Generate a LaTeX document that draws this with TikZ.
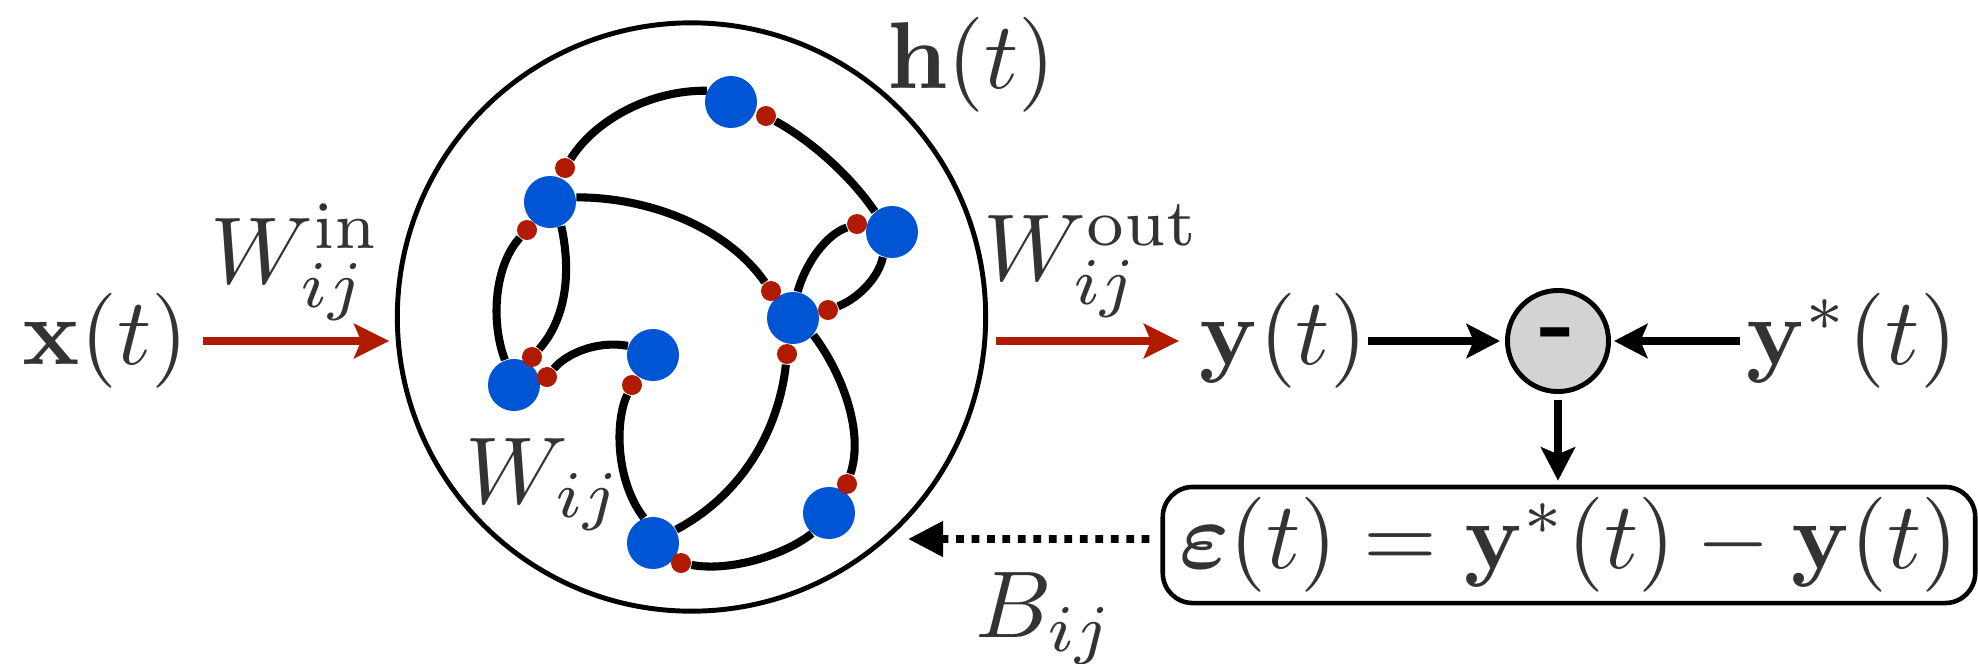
\RequirePackage{fix-cm}
\documentclass[tikz,border=0pt]{standalone}
\usepackage{amsmath}
\usepackage{graphicx}
\usetikzlibrary{arrows.meta,backgrounds}
\definecolor{nodeblue}{RGB}{0,85,212}
\definecolor{dotred}{RGB}{176,26,0}
\definecolor{txtgray}{RGB}{51,51,51}
\definecolor{minusgray}{RGB}{211,211,211}
\newcommand{\sclbl}[1]{\scalebox{2.7}{#1}}
\begin{document}
\begin{tikzpicture}[x=0.01cm,y=-0.01cm,
  lbl/.style={text=txtgray,inner sep=0pt},
  neuron/.style={circle,fill=nodeblue,inner sep=0pt,minimum size=0.52cm},
  syn/.style={circle,fill=dotred,inner sep=0pt,minimum size=0.2cm},
  link/.style={line width=2.3pt},
  redarrow/.style={draw=dotred,line width=2pt,-{Stealth[length=10pt,width=9.7pt,inset=2pt]}},
  blkarrow/.style={draw=black,line width=2.1pt,-{Stealth[length=9.5pt,width=9.7pt,inset=2pt]}},
  fbarrow/.style={draw=black,line width=2.2pt,dash pattern=on 2.2pt off 2.2pt,-{Triangle[length=10pt,width=9.7pt]}},
]
\useasboundingbox (0,0) rectangle (1978,663);

% reservoir
\node[draw,circle,line width=1.4pt,minimum size=5.88cm,inner sep=0pt] (res) at (691.5,317) {};

% neurons
\node[neuron] (n1) at (731,102) {};
\node[neuron] (n2) at (550,202) {};
\node[neuron] (n3) at (892,232) {};
\node[neuron] (n4) at (793,318) {};
\node[neuron] (n5) at (653,355) {};
\node[neuron] (n6) at (514,385) {};
\node[neuron] (n7) at (653,543) {};
\node[neuron] (n8) at (829,513) {};

% synapses
\node[syn] (a) at (766,116) {};
\node[syn] (b) at (565,168) {};
\node[syn] (c) at (527,230) {};
\node[syn] (d) at (857,224) {};
\node[syn] (e) at (771,291) {};
\node[syn] (f) at (828,310) {};
\node[syn] (g) at (787,354) {};
\node[syn] (h) at (532,357) {};
\node[syn] (i) at (547,377) {};
\node[syn] (j) at (632,385) {};
\node[syn] (k) at (847,484) {};
\node[syn] (l) at (681,563) {};

\begin{scope}[on background layer]
\draw[link] (b) .. controls (595,120) and (650,90) .. (n1.155);
\draw[link] (a) .. controls (810,140) and (850,175) .. (n3.130);
\draw[link] (n2.10) .. controls (645,197) and (725,225) .. (e);
\draw[link] (c) .. controls (495,265) and (490,320) .. (n6.110);
\draw[link] (n2.-65) .. controls (572,275) and (565,320) .. (h);
\draw[link] (i) .. controls (565,355) and (595,340) .. (n5.160);
\draw[link] (j) .. controls (615,420) and (615,480) .. (n7.110);
\draw[link] (g) .. controls (780,420) and (750,490) .. (n7.30);
\draw[link] (n4.-40) .. controls (840,370) and (865,430) .. (k);
\draw[link] (l) .. controls (730,572) and (785,555) .. (n8.-130);
\draw[link] (n4.80) .. controls (805,265) and (825,235) .. (d);
\draw[link] (f) .. controls (855,300) and (878,280) .. (n3.-110);
\end{scope}

% labels
\node[lbl,anchor=base] (hlab) at (971.5,88) {\sclbl{$\mathbf{h}(t)$}};
\node[lbl,anchor=base] (wij) at (544,503) {\sclbl{$W_{ij}$}};
\node[lbl,anchor=base] (win) at (296,283) {\sclbl{$W^{\mathrm{in}}_{ij}$}};
\node[lbl,anchor=base] (wout) at (1092,280) {\sclbl{$W^{\mathrm{out}}_{ij}$}};
\node[lbl,anchor=base] (bij) at (1045,637) {\sclbl{$B_{ij}$}};

% signal row
\node[lbl] (xt) at (105.5,341) {\sclbl{$\mathbf{x}(t)$}};
\node[lbl] (yt) at (1283.5,341) {\sclbl{$\mathbf{y}(t)$}};
\node[lbl] (ys) at (1851.5,341) {\sclbl{$\mathbf{y}^*(t)$}};
\node[draw,circle,fill=minusgray,line width=1.4pt,minimum size=1.01cm,inner sep=0pt] (minus) at (1558,341) {\sclbl{\bfseries -}};
\node[lbl,draw=black,line width=1.3pt,rounded corners=0.3cm,minimum width=8.12cm,minimum height=1.16cm]
      (eps) at (1569,545) {\sclbl{$\boldsymbol{\varepsilon}(t)=\mathbf{y}^*(t)-\mathbf{y}(t)$}};

% connectors
\draw[redarrow,shorten <=0.14cm,shorten >=0.055cm] (xt.east) -- (xt.east -| res.west);
\draw[redarrow,shorten <=0.075cm,shorten >=0.2cm] (yt.west -| res.east) -- (yt.west);
\draw[blkarrow,shorten >=0.05cm] (yt) -- (minus);
\draw[blkarrow,shorten <=0.05cm,shorten >=0.03cm] (ys) -- (minus);
\draw[blkarrow,shorten <=0.06cm,shorten >=0.04cm] (minus.south) -- (minus.south |- eps.north);
\coordinate (fbend) at (908,539);
\draw[fbarrow,shorten <=0.11cm] ([yshift=0.06cm]eps.west) -- (fbend);
\end{tikzpicture}
\end{document}
